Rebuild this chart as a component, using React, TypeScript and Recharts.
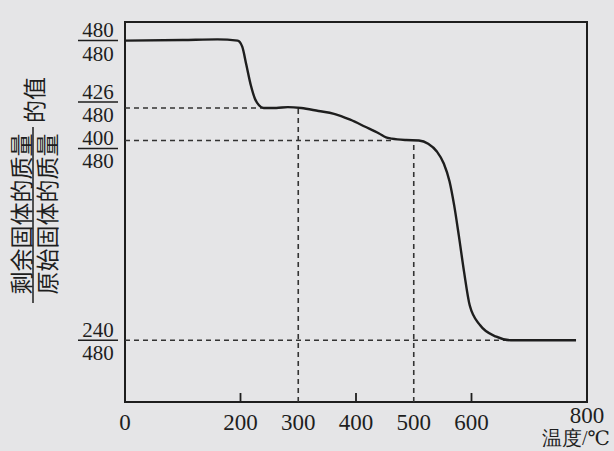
import { LineChart, Line, XAxis, YAxis, ReferenceLine, ReferenceArea, Label } from "recharts";

// temperature (°C) and remaining / original solid mass ratio
const temperatures = [0, 100, 160, 195, 203, 210, 218, 225, 232, 240, 262, 282, 305, 335, 362, 390, 416, 440, 452, 462, 487, 509, 525, 540, 552, 562, 570, 578, 587, 597, 615, 643, 668, 720, 781];
const massRatios = [1.0, 1.001, 1.002, 1.0, 0.99, 0.96, 0.925, 0.903, 0.892, 0.8875, 0.8875, 0.889, 0.8875, 0.8825, 0.8778, 0.868, 0.8562, 0.845, 0.8385, 0.8365, 0.8341, 0.8333, 0.828, 0.815, 0.795, 0.765, 0.725, 0.675, 0.615, 0.558, 0.525, 0.506, 0.5, 0.5, 0.5];

const xTicks = [0, 200, 300, 400, 500, 600, 800];
const xTickMarks = [200, 400, 600];
const yNumerators = [480, 426, 400, 240];
const denominator = 480;
const yTicks = yNumerators.map((n) => n / denominator);

const data = temperatures.map((t, i) => ({ t, r: massRatios[i] }));

const yMin = 0.397;
const yMax = 1.031;
const ink = "#1e1e1e";
const serif = "'Liberation Serif', 'DejaVu Serif', serif";
const cjk = "'Noto Sans CJK SC', sans-serif";

const XTick = ({ x, y, payload }: any) => (
  <g>
    {xTickMarks.includes(payload.value) && (
      <line x1={x} x2={x} y1={y} y2={y - 9} stroke={ink} strokeWidth={1.8} />
    )}
    <text
      x={x}
      y={y + (payload.value === 800 ? 21 : 28)}
      textAnchor="middle"
      fontSize={23}
      fontFamily={serif}
      fill={ink}
    >
      {payload.value}
    </text>
  </g>
);

const YTick = ({ x, y, payload }: any) => {
  const idx = yTicks.indexOf(payload.value);
  const num = yNumerators[idx];
  // the middle two labels sit close together, nudge them apart like the print does
  const by = y + (num === 426 ? -6 : num === 400 ? 8 : 0);
  const cx = x - 27;
  return (
    <g fontSize={21} fontFamily={serif} fill={ink}>
      <text x={cx} y={by - 3.5} textAnchor="middle">{num}</text>
      <line x1={cx - 20} x2={cx + 20} y1={by} y2={by} stroke={ink} strokeWidth={1.5} />
      <text x={cx} y={by + 20} textAnchor="middle">{denominator}</text>
    </g>
  );
};

const YTitle = () => (
  <g fontSize={23} fontFamily={cjk} fill={ink}>
    <text x={20} y={214} transform="rotate(-90 20 214)" textAnchor="middle" dominantBaseline="central">
      剩余固体的质量
    </text>
    <line x1={33} x2={33} y1={127} y2={303} stroke={ink} strokeWidth={1.5} />
    <text x={46} y={214} transform="rotate(-90 46 214)" textAnchor="middle" dominantBaseline="central">
      原始固体的质量
    </text>
    <text x={33} y={100} transform="rotate(-90 33 100)" textAnchor="middle" dominantBaseline="central">
      的值
    </text>
  </g>
);

const XTitle = () => (
  <text x={610} y={445} textAnchor="end" fontSize={20} fontFamily={serif} fill={ink}>
    温度/℃
  </text>
);

export default function App() {
  return (
    <div style={{ position: "absolute", left: 0, top: 0, width: 614, height: 451, background: "#e5e5e7" }}>
      <LineChart width={614} height={451} data={data} margin={{ top: 22, right: 27, bottom: 0, left: 0 }}>
        <XAxis
          dataKey="t"
          type="number"
          domain={[0, 800]}
          ticks={xTicks}
          interval={0}
          tickSize={0}
          tickMargin={0}
          axisLine={false}
          tickLine={false}
          tick={<XTick />}
          height={49}
        >
          <Label content={<XTitle />} />
        </XAxis>
        <YAxis
          type="number"
          domain={[yMin, yMax]}
          ticks={yTicks}
          interval={0}
          tickSize={0}
          tickMargin={0}
          axisLine={false}
          tickLine={false}
          tick={<YTick />}
          width={125}
        >
          <Label content={<YTitle />} />
        </YAxis>
        <ReferenceArea x1={0} x2={800} y1={yMin} y2={yMax} fill="none" stroke={ink} strokeWidth={2} />
        <ReferenceLine segment={[{ x: 0, y: yTicks[1] }, { x: 240, y: yTicks[1] }]} stroke="#333" strokeWidth={1.6} strokeDasharray="5 4" />
        <ReferenceLine segment={[{ x: 0, y: yTicks[2] }, { x: 462, y: yTicks[2] }]} stroke="#333" strokeWidth={1.6} strokeDasharray="5 4" />
        <ReferenceLine segment={[{ x: 0, y: yTicks[3] }, { x: 668, y: yTicks[3] }]} stroke="#333" strokeWidth={1.6} strokeDasharray="5 4" />
        <ReferenceLine segment={[{ x: 300, y: yMin }, { x: 300, y: yTicks[1] }]} stroke="#333" strokeWidth={1.6} strokeDasharray="5 4" />
        <ReferenceLine segment={[{ x: 500, y: yMin }, { x: 500, y: yTicks[2] }]} stroke="#333" strokeWidth={1.6} strokeDasharray="5 4" />
        <Line
          type="monotone"
          dataKey="r"
          stroke={ink}
          strokeWidth={2.4}
          dot={false}
          isAnimationActive={false}
        />
      </LineChart>
    </div>
  );
}
